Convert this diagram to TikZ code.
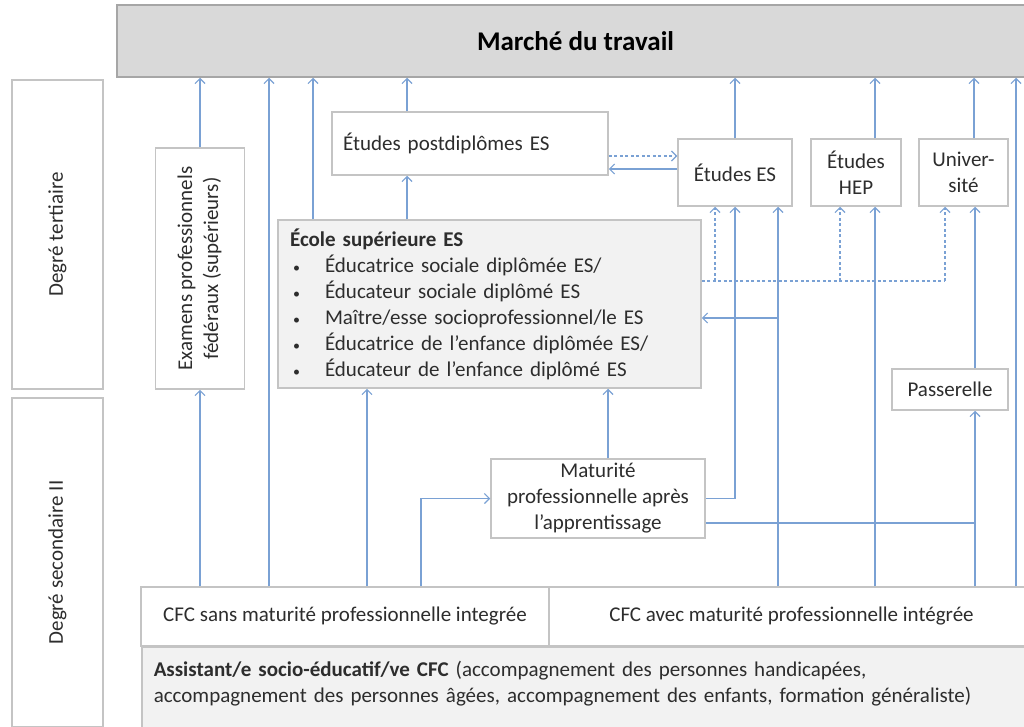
\documentclass[tikz,border=0pt]{standalone}
\usepackage{fontspec}
\setmainfont{Carlito}
\usepackage{graphicx}
\usetikzlibrary{calc,arrows.meta}
\definecolor{linkblue}{RGB}{122,161,212}
\definecolor{boxgray}{RGB}{196,196,196}
\definecolor{topgray}{RGB}{217,217,217}
\definecolor{schoolgray}{RGB}{242,242,242}
\definecolor{txt}{RGB}{45,45,45}
\newcommand{\esitem}{\hspace{3pt}\makebox[32pt][l]{\fontsize{14}{14}\selectfont\textbullet}}

\begin{document}
\begin{tikzpicture}[x=1pt, y=-1pt,
		box/.style={draw=boxgray, line width=1.5pt, fill=white, inner sep=0pt, text=txt, align=center, font=\fontsize{21}{26}\selectfont},
		link/.style={draw=linkblue, line width=1.2pt},
		linkarr/.style={link, -{Straight Barb[length=5pt, width=10pt]}},
		dlink/.style={link, dash pattern=on 3pt off 2.5pt},
		dlinkarr/.style={dlink, -{Straight Barb[length=5pt, width=10pt]}}]
		%%%%% START %%%%%
		
		\clip (0, 0) rectangle (1024, 726);
		
		\node[box, fill=topgray, draw=black!35, minimum width=917pt, minimum height=72pt, text=black, font=\fontsize{27}{32}\selectfont\bfseries] (mdt) at (575.5, 41) {Marché du travail};
		
		\node[box, rotate=90, minimum width=309pt, minimum height=91pt] (tert) at (57.5, 234.5) {Degré tertiaire};
		\node[box, rotate=90, minimum width=329pt, minimum height=91pt] (sec) at (57.5, 562.5) {Degré secondaire II};
		
		\node[box, minimum width=89pt, minimum height=241pt] (exam) at (200, 268.5) {\rotatebox{90}{\begin{tabular}{@{}c@{}}Examens professionnels\\fédéraux (supérieurs)\end{tabular}}};
		
		\node[box, minimum width=276pt, minimum height=63pt, text width=254pt, align=left] (postd) at (470, 143.5) {Études postdiplômes ES};
		\node[box, minimum width=114pt, minimum height=67pt] (etes) at (735, 172.5) {Études ES};
		\node[box, minimum width=90pt, minimum height=67pt] (hep) at (856, 172.5) {Études\\HEP};
		\node[box, minimum width=89pt, minimum height=67pt] (univ) at (963.5, 172.5) {Univer-\\sité};
		
		\node[box, fill=schoolgray, minimum width=423pt, minimum height=168pt, text width=399pt, align=left] (ecole) at (489.5, 304) {\textbf{École supérieure ES}\\
			\esitem Éducatrice sociale diplômée ES/\\
			\esitem Éducateur sociale diplômé ES\\
			\esitem Maître/esse socioprofessionnel/le ES\\
			\esitem Éducatrice de l’enfance diplômée ES/\\
			\esitem Éducateur de l’enfance diplômé ES};
		
		\node[box, minimum width=116pt, minimum height=41pt] (pass) at (950, 389.5) {Passerelle};
		\node[box, minimum width=214pt, minimum height=79pt] (mat) at (598, 498.5) {Maturité\\professionnelle après\\l’apprentissage};
		
		\node[box, minimum width=408pt, minimum height=59pt] (cfcsans) at (345, 616.5) {CFC sans maturité professionnelle integrée};
		\node[box, minimum width=485pt, minimum height=59pt] (cfcavec) at (791.5, 616.5) {CFC avec maturité professionnelle intégrée};
		\node[box, fill=schoolgray, anchor=north west, text width=900pt, inner xsep=12pt, inner ysep=14pt, align=left] (asst) at (141, 646) {\textbf{Assistant/e socio-éducatif/ve CFC} (accompagnement des personnes handicapées,\\accompagnement des personnes âgées, accompagnement des enfants, formation généraliste)\rule[-40pt]{0pt}{0pt}};
		
		% up to the labour market
		\draw[linkarr] (exam.north) -- (exam.north |- mdt.south);
		\draw[linkarr] (cfcsans.north -| 269, 0) -- (mdt.south -| 269, 0);
		\draw[linkarr] (ecole.north -| 313, 0) -- (mdt.south -| 313, 0);
		\draw[linkarr] (postd.north -| 407, 0) -- (mdt.south -| 407, 0);
		\draw[linkarr] (etes.north) -- (etes.north |- mdt.south);
		\draw[linkarr] (hep.north -| 875, 0) -- (mdt.south -| 875, 0);
		\draw[linkarr] (univ.north -| 974, 0) -- (mdt.south -| 974, 0);
		\draw[linkarr] (cfcavec.north -| 1016, 0) -- (mdt.south -| 1016, 0);
		
		% from CFC sans
		\draw[linkarr] (cfcsans.north -| exam.south) -- (exam.south);
		\draw[linkarr] (cfcsans.north -| 367, 0) -- (ecole.south -| 367, 0);
		\draw[linkarr] (cfcsans.north -| 421, 0) |- (mat.west);
		
		% from the Maturité
		\draw[linkarr] (mat.north -| 608, 0) -- (ecole.south -| 608, 0);
		\draw[linkarr] (mat.east) -| (etes.south);
		\draw[link] (mat.east |- 0, 523) -- (975, 523);
		
		% from CFC avec
		\draw[linkarr] (cfcavec.north -| 778, 0) -- (etes.south -| 778, 0);
		\draw[linkarr] (778, 318) -- (ecole.east |- 0, 318);
		\draw[linkarr] (cfcavec.north -| 875, 0) -- (hep.south -| 875, 0);
		\draw[linkarr] (cfcavec.north -| 975, 0) -- (pass.south -| 975, 0);
		\draw[linkarr] (pass.north -| 975, 0) -- (univ.south -| 975, 0);
		
		% from the École
		\draw[linkarr] (ecole.north -| 407, 0) -- (postd.south -| 407, 0);
		\draw[dlink] (ecole.east |- 0, 281) -- (945, 281);
		\draw[dlinkarr] (715, 281) -- (etes.south -| 715, 0);
		\draw[dlinkarr] (840, 281) -- (hep.south -| 840, 0);
		\draw[dlinkarr] (945, 281) -- (univ.south -| 945, 0);
		
		% postdiplômes and Études ES
		\draw[dlinkarr] (postd.east |- 0, 156) -- (etes.west |- 0, 156);
		\draw[linkarr] (etes.west |- 0, 169) -- (postd.east |- 0, 169);
		
		%%%%% END %%%%%
	\end{tikzpicture}
\end{document}
